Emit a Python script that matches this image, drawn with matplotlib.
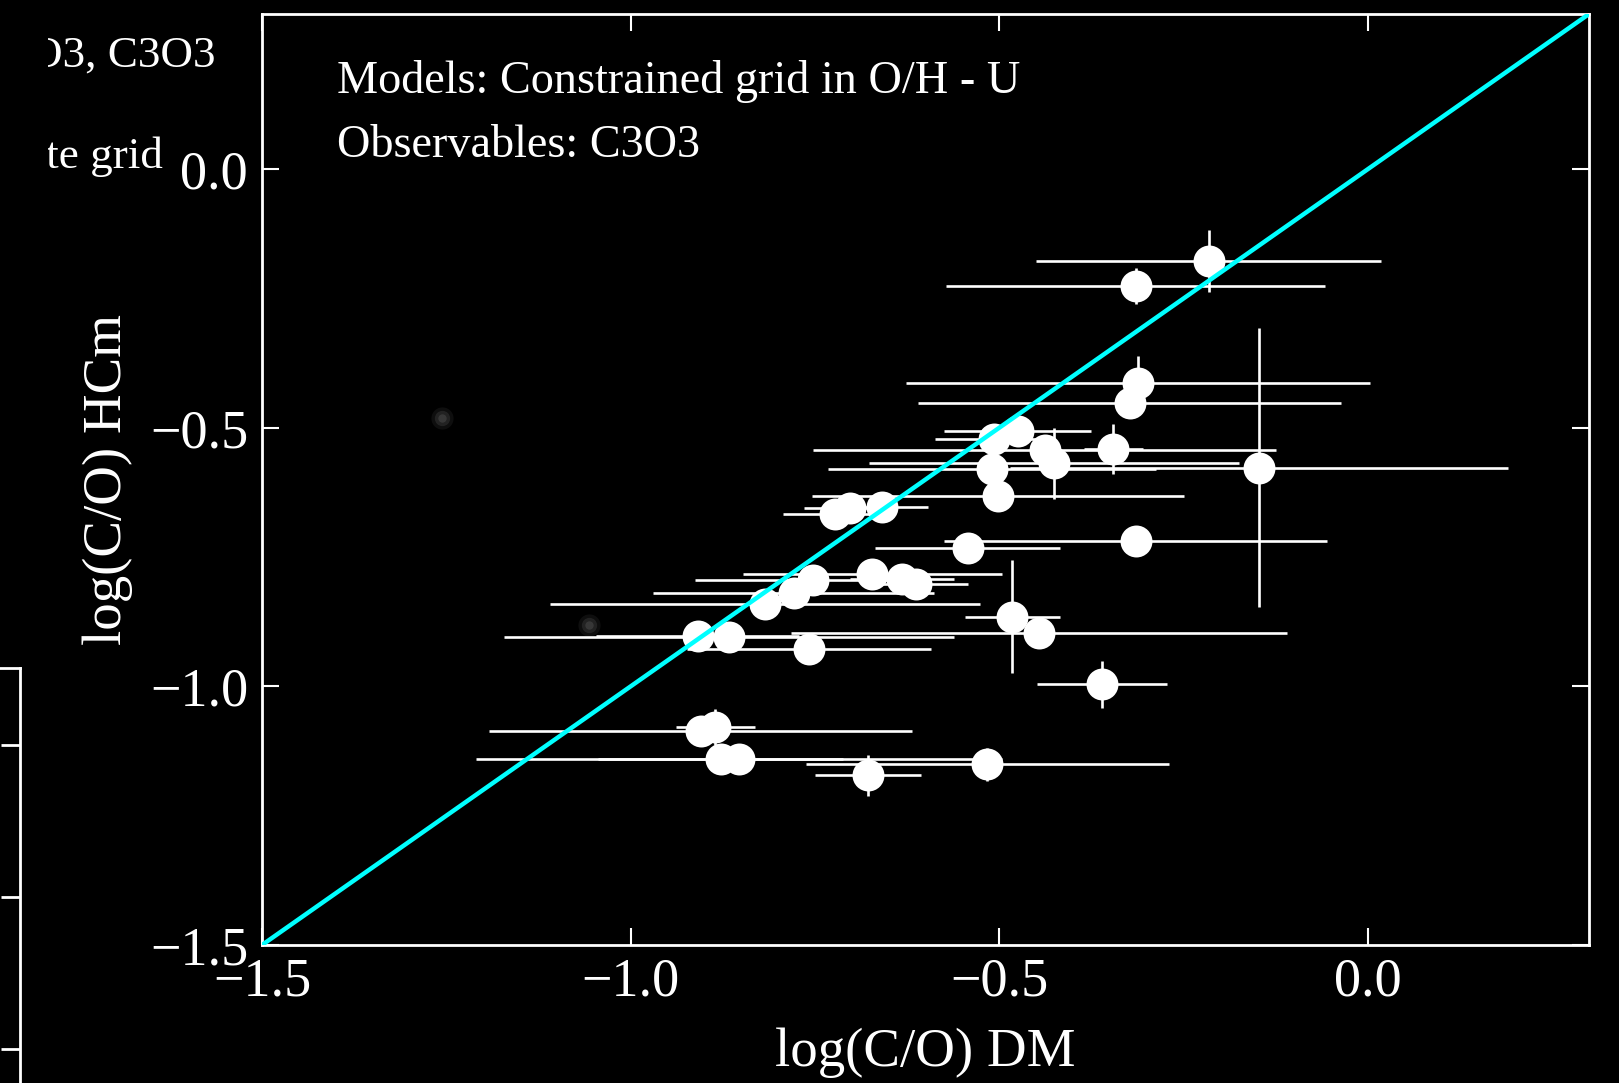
import numpy as np
import matplotlib.pyplot as plt
from matplotlib.transforms import Bbox

plt.rcParams['font.family'] = ['Liberation Serif', 'DejaVu Serif']

# log(C/O) from the direct method vs. HCm (constrained grid, C3O3)
x_dm = [-0.216, -0.315, -0.312, -0.323, -0.507, -0.475, -0.438, -0.426, -0.345,
        -0.510, -0.502, -0.148, -0.723, -0.703, -0.659, -0.543, -0.315, -0.909,
        -0.867, -0.818, -0.779, -0.752, -0.758, -0.672, -0.632, -0.613, -0.482,
        -0.446, -0.361, -0.905, -0.885, -0.878, -0.853, -0.678, -0.516]
y_hcm = [-0.178, -0.226, -0.413, -0.452, -0.521, -0.506, -0.542, -0.569, -0.541,
         -0.579, -0.631, -0.577, -0.666, -0.656, -0.653, -0.732, -0.718, -0.903,
         -0.905, -0.840, -0.819, -0.795, -0.927, -0.782, -0.792, -0.803, -0.865,
         -0.896, -0.996, -1.087, -1.079, -1.141, -1.141, -1.172, -1.151]
xerr_dm = [0.234, 0.257, 0.315, 0.287, 0.080, 0.100, 0.314, 0.251, 0.040,
           0.222, 0.252, 0.338, 0.070, 0.062, 0.063, 0.126, 0.260, 0.138,
           0.305, 0.292, 0.191, 0.160, 0.165, 0.176, 0.070, 0.070, 0.064,
           0.336, 0.088, 0.287, 0.054, 0.166, 0.357, 0.072, 0.246]
yerr_hcm = [0.060, 0.035, 0.052, 0.020, 0.020, 0.020, 0.020, 0.068, 0.048,
            0.020, 0.020, 0.270, 0.020, 0.020, 0.020, 0.020, 0.020, 0.020,
            0.020, 0.020, 0.020, 0.020, 0.020, 0.020, 0.020, 0.020, 0.110,
            0.020, 0.045, 0.020, 0.035, 0.020, 0.020, 0.040, 0.032]

# faint background objects
x_faint = [-1.256, -1.056]
y_faint = [-0.481, -0.882]

lims = [-1.5, 0.3]
ticks = [-1.5, -1.0, -0.5, 0.0]

fig = plt.figure(figsize=(16.19, 10.83), dpi=100, facecolor='black')

# edge of the neighbouring panel
ax2 = fig.add_axes([-0.5, -0.3, 0.5 + 20 / 1619, 0.683])
ax2.set_facecolor('black')
ax2.set_ylim(0, 4.866)
ax2.set_xlim(0, 1)
for s in ax2.spines.values():
    s.set_color('white')
    s.set_linewidth(2)
ax2.tick_params(axis='y', which='both', direction='in', color='white', length=14, width=2,
                left=False, right=True, labelleft=False)
ax2.tick_params(axis='x', bottom=False, top=False, labelbottom=False)
ax2.set_yticks([0.36, 1.36, 2.36, 3.36, 4.36])
ax2.set_xticks([])

# annotations of the neighbouring panel, cut at its border
clip = Bbox([[48, 0], [1619, 1083]])
t1 = fig.text(215 / 1619, 1 - 67 / 1083, 'O3, C3O3', color='white', fontsize=32.5,
              ha='right', va='baseline')
t2 = fig.text(163 / 1619, 1 - 168 / 1083, 'ete grid', color='white', fontsize=32.5,
              ha='right', va='baseline')
for t in (t1, t2):
    t.set_clip_box(clip)
    t.set_clip_on(True)

ax = fig.add_axes([262 / 1619, 1 - 945 / 1083, 1327 / 1619, 931 / 1083])
ax.set_facecolor('black')

# soft grey glow for the faint objects
for ms, a in [(16, 0.15), (11, 0.25), (6, 0.35)]:
    ax.plot(x_faint, y_faint, 'o', color='#606060', markersize=ms, alpha=a,
            markeredgewidth=0, zorder=1)

ax.errorbar(x_dm, y_hcm, xerr=xerr_dm, yerr=yerr_hcm, fmt='o', color='white',
            ecolor='white', markersize=23, markeredgewidth=0, elinewidth=1.9,
            capsize=7.5, capthick=1.9, zorder=2)

ax.plot(lims, lims, color='cyan', linewidth=3.2, zorder=3)

ax.set_xlim(lims)
ax.set_ylim(lims)
ax.set_xticks(ticks)
ax.set_yticks(ticks)
ax.tick_params(which='both', direction='in', colors='white', length=12, width=1.5,
               top=True, right=True, labelsize=39)
ax.tick_params(axis='x', pad=9)
ax.tick_params(axis='y', pad=10)
for s in ax.spines.values():
    s.set_color('white')
    s.set_linewidth(2)

ax.set_xlabel('log(C/O) DM', color='white', fontsize=39.5, labelpad=14)
ax.set_ylabel('log(C/O) HCm', color='white', fontsize=39.5, labelpad=12)

ax.text(0.0565, 0.915, 'Models: Constrained grid in O/H - U', transform=ax.transAxes,
        color='white', fontsize=33.3, va='baseline')
ax.text(0.0565, 0.846, 'Observables: C3O3', transform=ax.transAxes,
        color='white', fontsize=33.3, va='baseline')

fig.savefig('out.png', dpi=100, facecolor='black')
